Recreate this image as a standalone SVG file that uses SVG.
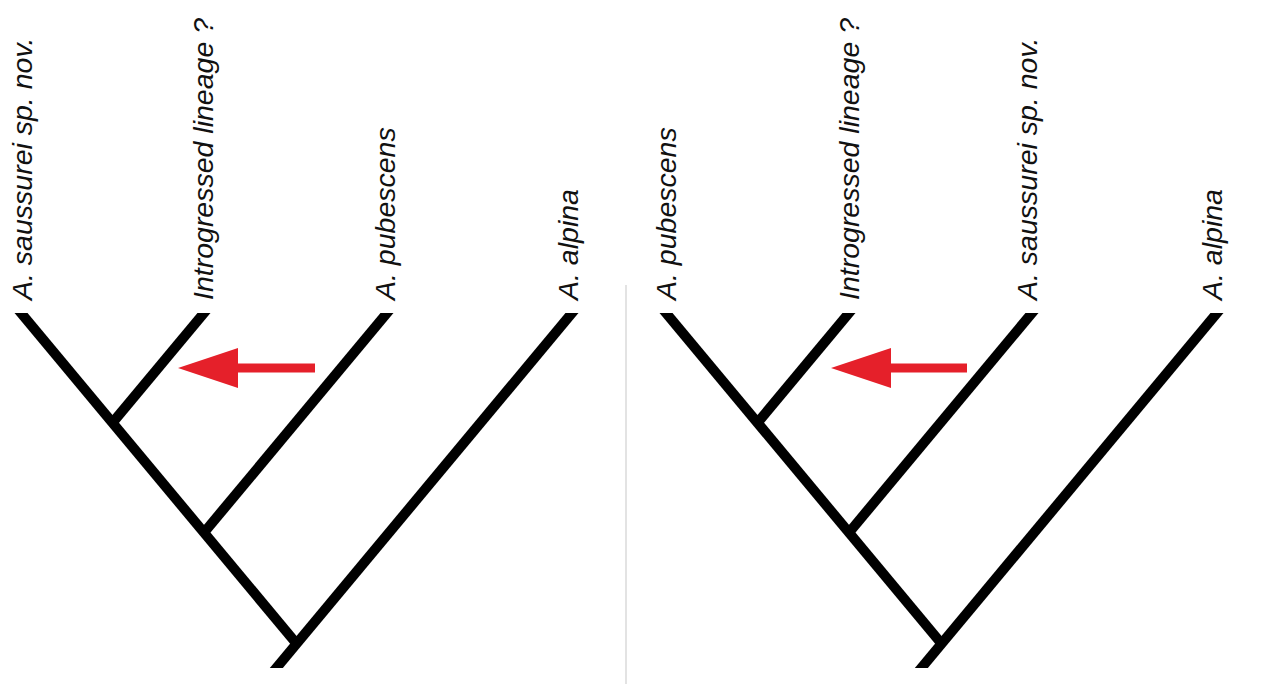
<svg xmlns="http://www.w3.org/2000/svg" width="1263" height="684" viewBox="0 0 1263 684">
<style>
.br{stroke:#000;stroke-width:10;fill:none;stroke-linecap:butt}
.lb{font-family:"Liberation Sans",Arial,sans-serif;font-style:italic;font-size:28.5px;fill:#111}
.ar{fill:#e5202a}
</style>
<defs>
<clipPath id="clipT"><rect x="0" y="313" width="640" height="355"/></clipPath>
</defs>
<rect width="1263" height="684" fill="#fff"/>
<line id="divider" x1="626" y1="285" x2="626" y2="684" stroke="#d0d0d0" stroke-width="1.2"/>
<g id="tree-left">
  <g id="connectors-left" clip-path="url(#clipT)">
    <line class="br" x1="12.7" y1="303" x2="296.5" y2="643.6"/>
    <line class="br" x1="212.3" y1="303" x2="112.5" y2="422.8"/>
    <line class="br" x1="395.3" y1="303" x2="204" y2="532.6"/>
    <line class="br" x1="580.3" y1="303" x2="268" y2="678"/>
  </g>
  <g id="labels-left">
    <text class="lb" transform="translate(32,300) rotate(-90)">A. saussurei sp. nov.</text>
    <text class="lb" transform="translate(213,300) rotate(-90)">Introgressed lineage ?</text>
    <text class="lb" transform="translate(395,300) rotate(-90)">A. pubescens</text>
    <text class="lb" transform="translate(578,300) rotate(-90)">A. alpina</text>
  </g>
  <polygon id="arrow-left" class="ar" points="178,368 238,348 238,363.5 315,363.5 315,372.5 238,372.5 238,388"/>
</g>
<g id="tree-right">
  <g id="connectors-right" transform="translate(645,0)" clip-path="url(#clipT)">
    <line class="br" x1="12.7" y1="303" x2="296.5" y2="643.6"/>
    <line class="br" x1="212.3" y1="303" x2="112.5" y2="422.8"/>
    <line class="br" x1="395.3" y1="303" x2="204" y2="532.6"/>
    <line class="br" x1="580.3" y1="303" x2="268" y2="678"/>
  </g>
  <g id="labels-right">
    <text class="lb" transform="translate(676,300) rotate(-90)">A. pubescens</text>
    <text class="lb" transform="translate(859,300) rotate(-90)">Introgressed lineage ?</text>
    <text class="lb" transform="translate(1037,300) rotate(-90)">A. saussurei sp. nov.</text>
    <text class="lb" transform="translate(1222,300) rotate(-90)">A. alpina</text>
  </g>
  <polygon id="arrow-right" class="ar" points="831,368 891,348 891,363.5 967,363.5 967,372.5 891,372.5 891,388"/>
</g>
</svg>
